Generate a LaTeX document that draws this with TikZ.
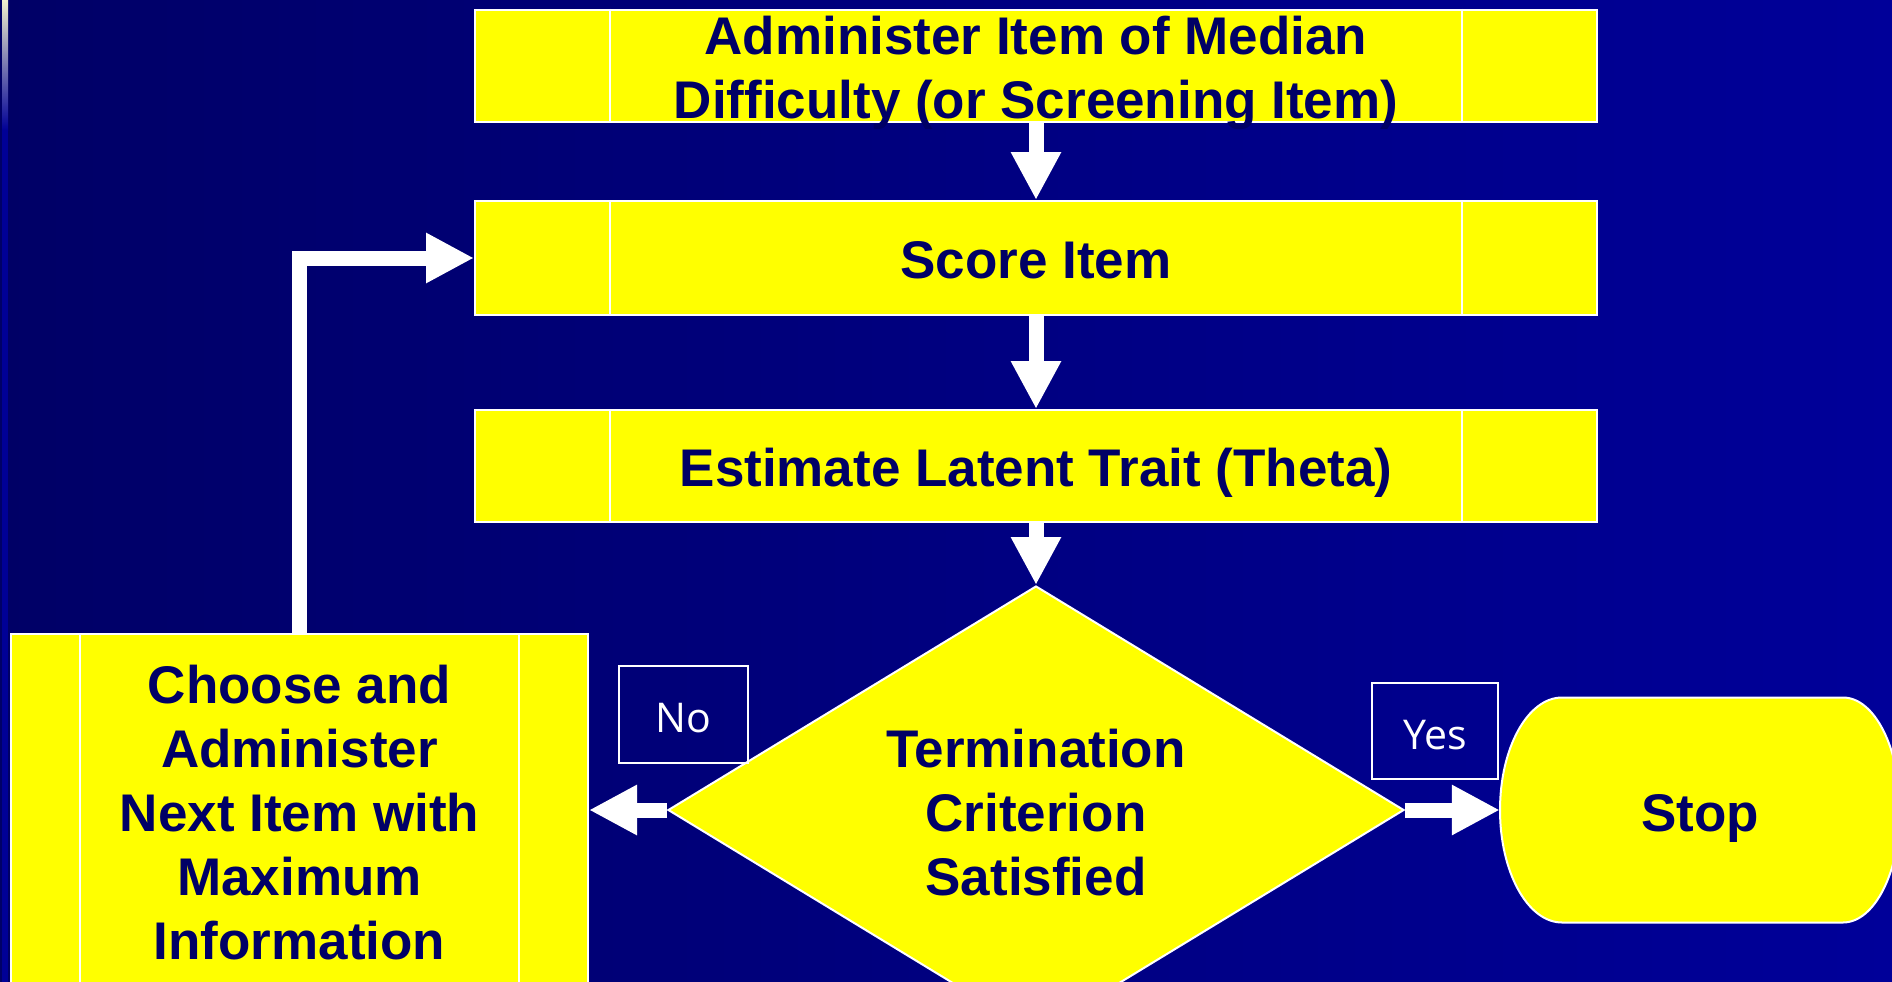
\documentclass[tikz,border=0pt]{standalone}
\usepackage{fontspec}
\setmainfont{Liberation Sans}
\newfontfamily\tagfont{Open Sans}
\usetikzlibrary{arrows.meta,shapes.geometric}
\definecolor{navytext}{RGB}{0,0,102}
\definecolor{bgleft}{RGB}{0,0,102}
\definecolor{bgright}{RGB}{0,0,153}
\definecolor{boxyellow}{RGB}{255,255,0}
\definecolor{stripcream}{RGB}{240,240,205}
\definecolor{stripblue}{RGB}{0,90,255}
\definecolor{stripdark}{RGB}{0,0,150}
\newcommand{\lift}[1]{\rule{0pt}{#1pt}}
\begin{document}
\begin{tikzpicture}[x=1pt,y=-1pt,
  proc/.style={rectangle, draw=white, line width=2pt, fill=boxyellow, inner sep=0pt,
    text=navytext, font=\bfseries\fontsize{53}{64}\selectfont, align=center},
  bigtext/.style={text=navytext, font=\bfseries\fontsize{53}{64}\selectfont, align=center, inner sep=0pt},
  flowarrow/.style={draw=white, line width=15pt, -{Triangle[width=47pt,length=48pt]}, line join=miter},
  divline/.style={draw=white, line width=1.5pt},
  tagbox/.style={rectangle, draw=white, line width=2pt, inner sep=0pt, text=white,
    font=\tagfont\fontsize{41}{50}\selectfont, text height=36pt, text depth=0pt},
  shapeline/.style={fill=boxyellow, draw=white, line width=2pt}
]
\useasboundingbox (0,0) rectangle (1892,982);
\clip (0,0) rectangle (1892,982);
% background
\shade[left color=bgleft, right color=bgright] (0,0) rectangle (1892,982);
\shade[top color=stripcream, middle color=stripblue, bottom color=stripdark] (2,0) rectangle (8,130);
\fill[stripdark] (2,130) rectangle (8,982);

% process boxes
\node[proc, minimum width=1122pt, minimum height=112pt] (admin) at (1036,66) {};
\node[proc, minimum width=1122pt, minimum height=114pt, text depth=0pt] (score) at (1036,258)
  {\lift{41.5}Score Item};
\node[proc, minimum width=1122pt, minimum height=112pt, text depth=0pt] (estimate) at (1036,466)
  {\lift{41.5}Estimate Latent Trait (Theta)};
\node[proc, minimum width=577pt, minimum height=352pt] (choose) at (299.5,810)
  {\lift{44}Choose and\\Administer\\Next Item with\\Maximum\\Information};

\foreach \n in {admin,score,estimate}{
  \draw[divline] ([xshift=136pt]\n.north west) -- ([xshift=136pt]\n.south west);
  \draw[divline] ([xshift=-136pt]\n.north east) -- ([xshift=-136pt]\n.south east);
}
\draw[divline] ([xshift=70pt]choose.north west) -- ([xshift=70pt]choose.south west);
\draw[divline] ([xshift=-70pt]choose.north east) -- ([xshift=-70pt]choose.south east);

% decision
\node[shape=diamond, shapeline, minimum width=736pt, minimum height=448pt, inner sep=0pt] (crit) at (1036,810) {};
\node[bigtext] (crittext) at (crit.center) {\lift{44}Termination\\Criterion\\Satisfied};

% terminator
\coordinate (stopc) at (1700,810);
\filldraw[shapeline] (1562,697.5) -- (1843,697.5)
  arc[start angle=90, end angle=-90, x radius=57pt, y radius=112.5pt]
  -- (1562,922.5)
  arc[start angle=270, end angle=90, x radius=62pt, y radius=112.5pt] -- cycle;
\node[bigtext, minimum width=400pt, minimum height=225pt, text depth=0pt] (stop) at (stopc) {\lift{43}Stop};

% labels
\node[tagbox, minimum width=129pt, minimum height=97pt] (no) at (683.5,714.5) {No};
\node[tagbox, minimum width=126pt, minimum height=96pt] (yes) at (1435,731) {Yes};

% connectors
\draw[flowarrow] (admin.south) -- (score.north);
\draw[flowarrow] (score.south) -- (estimate.north);
\draw[flowarrow] (estimate.south) -- (crit.north);
\draw[flowarrow] (choose.north) |- (score.west);
\draw[flowarrow] (crit.west) -- (choose.east);
\draw[flowarrow] (crit.east) -- (stop.west);

% text of the first box, over the arrow below it
\node[bigtext] (admintext) at ([yshift=-7pt]admin.center)
  {Administer Item of Median\\Difficulty (or Screening Item)};
\end{tikzpicture}
\end{document}
